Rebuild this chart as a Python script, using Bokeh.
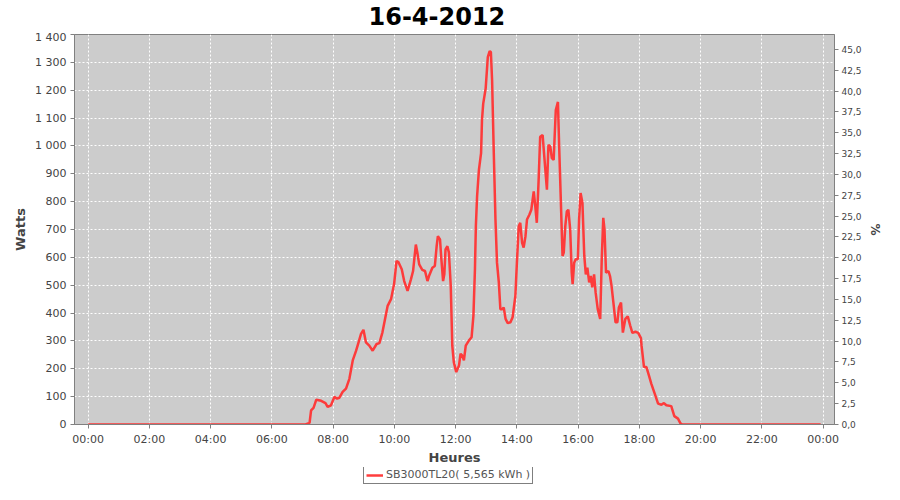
from bokeh.plotting import figure
from bokeh.layouts import column
from bokeh.models import Range1d, LinearAxis, FixedTicker, Legend, LegendItem
from bokeh.core.properties import value
from bokeh.embed import file_html
from bokeh.resources import INLINE

chart_title = "16-4-2012"
series_label = "SB3000TL20( 5,565 kWh )"
x_label = "Heures"
y_label = "Watts"
y2_label = "%"

hours = [0.00, 7.10, 7.23, 7.28, 7.36, 7.45, 7.61, 7.75, 7.82, 7.93,
         8.04, 8.13, 8.20, 8.31, 8.42, 8.53, 8.64, 8.75, 8.83, 8.91,
         8.99, 9.07, 9.18, 9.29, 9.42, 9.51, 9.61, 9.78, 9.89, 9.99,
         10.07, 10.13, 10.24, 10.32, 10.43, 10.54, 10.61, 10.70, 10.75, 10.81,
         10.91, 11.00, 11.08, 11.13, 11.24, 11.32, 11.38, 11.42, 11.49, 11.53,
         11.59, 11.63, 11.67, 11.73, 11.78, 11.84, 11.89, 11.94, 12.02, 12.11,
         12.16, 12.21, 12.27, 12.33, 12.43, 12.52, 12.58, 12.63, 12.66, 12.70,
         12.76, 12.83, 12.86, 12.90, 12.98, 13.05, 13.11, 13.15, 13.19, 13.24,
         13.30, 13.35, 13.41, 13.46, 13.52, 13.57, 13.63, 13.70, 13.79, 13.86,
         13.95, 14.00, 14.06, 14.11, 14.17, 14.22, 14.28, 14.33, 14.41, 14.47,
         14.55, 14.60, 14.65, 14.71, 14.76, 14.84, 14.89, 14.98, 15.03, 15.09,
         15.14, 15.20, 15.23, 15.27, 15.34, 15.38, 15.43, 15.49, 15.53, 15.58,
         15.63, 15.68, 15.74, 15.79, 15.82, 15.87, 15.92, 15.99, 16.03, 16.08,
         16.14, 16.20, 16.25, 16.30, 16.36, 16.41, 16.46, 16.52, 16.57, 16.64,
         16.72, 16.77, 16.82, 16.86, 16.91, 16.99, 17.04, 17.09, 17.15, 17.22,
         17.28, 17.33, 17.40, 17.46, 17.54, 17.62, 17.70, 17.77, 17.87, 17.96,
         18.05, 18.07, 18.15, 18.23, 18.31, 18.39, 18.50, 18.61, 18.72, 18.80,
         18.88, 19.04, 19.14, 19.26, 19.34, 19.40, 23.92]

watts = [0, 0, 6, 51, 60, 89, 85, 77, 63, 69,
         99, 93, 96, 117, 129, 164, 230, 265, 295, 325,
         340, 295, 283, 265, 289, 292, 331, 426, 450, 504,
         587, 583, 557, 515, 480, 521, 551, 646, 617, 575,
         555, 551, 515, 533, 563, 569, 640, 676, 664, 599,
         515, 539, 629, 640, 617, 498, 283, 224, 188, 212,
         254, 248, 230, 283, 301, 313, 390, 557, 712, 819,
         914, 974, 1093, 1152, 1206, 1319, 1340, 1337, 1236, 998,
         736, 581, 510, 414, 414, 420, 379, 364, 367, 385,
         462, 581, 712, 724, 652, 635, 676, 736, 754, 771,
         837, 783, 724, 879, 1033, 1039, 968, 843, 1004, 998,
         956, 950, 1027, 1129, 1158, 998, 819, 605, 617, 712,
         765, 771, 700, 545, 504, 581, 593, 593, 736, 831,
         795, 605, 539, 563, 510, 533, 492, 539, 474, 414,
         379, 593, 742, 700, 545, 551, 533, 498, 438, 367,
         367, 420, 438, 330, 379, 388, 355, 329, 333, 329,
         310, 283, 206, 206, 176, 146, 111, 75, 71, 77,
         69, 66, 30, 21, 4, 0, 0]

x_ticks = [0, 2, 4, 6, 8, 10, 12, 14, 16, 18, 20, 22, 24]
x_tick_labels = ["00:00", "02:00", "04:00", "06:00", "08:00", "10:00", "12:00",
                 "14:00", "16:00", "18:00", "20:00", "22:00", "00:00"]

y_ticks = [0, 100, 200, 300, 400, 500, 600, 700, 800, 900, 1000, 1100, 1200, 1300, 1400]
y_tick_labels = ["0", "100", "200", "300", "400", "500", "600", "700", "800", "900",
                 "1 000", "1 100", "1 200", "1 300", "1 400"]

y2_ticks = [0, 2.5, 5, 7.5, 10, 12.5, 15, 17.5, 20, 22.5, 25, 27.5, 30, 32.5, 35, 37.5, 40, 42.5, 45]
y2_tick_labels = ["0,0", "2,5", "5,0", "7,5", "10,0", "12,5", "15,0", "17,5", "20,0", "22,5",
                  "25,0", "27,5", "30,0", "32,5", "35,0", "37,5", "40,0", "42,5", "45,0"]

FONT = "DejaVu Sans"
AXIS_GRAY = "#808080"
TEXT_GRAY = "#444444"
LINE_COLOR = "#FF3333"

# title strip
tfig = figure(width=884, height=30, x_range=Range1d(0, 1), y_range=Range1d(0, 1),
              output_backend="svg", toolbar_location=None, title=None,
              x_axis_type=None, y_axis_type=None,
              min_border=0, min_border_left=0, min_border_right=0,
              min_border_top=0, min_border_bottom=0)
tfig.outline_line_color = None
tfig.background_fill_color = "white"
tfig.xgrid.visible = False
tfig.ygrid.visible = False
tfig.text(x=[0], y=[0.5], text=[chart_title], x_offset=294,
          text_align="left", text_baseline="middle",
          text_font=value(FONT), text_font_size="24px", text_font_style="bold",
          text_color="black")

p = figure(width=884, height=437, title=None,
           x_range=Range1d(-0.445, 24.37), y_range=Range1d(0, 1400),
           output_backend="svg", toolbar_location=None,
           min_border_left=74, min_border_right=47, min_border_top=4, min_border_bottom=42)
p.background_fill_color = "#CCCCCC"
p.border_fill_color = "white"
p.outline_line_color = AXIS_GRAY
p.outline_line_width = 1

r = p.line(hours, watts, line_color=LINE_COLOR, line_width=2.5, line_alpha=0.95)

p.extra_y_ranges = {"pct": Range1d(0, 46.79)}
ax2 = LinearAxis(y_range_name="pct")
p.add_layout(ax2, "right")

p.xaxis.ticker = FixedTicker(ticks=x_ticks)
p.xaxis.major_label_overrides = dict(zip(x_ticks, x_tick_labels))
p.xaxis.axis_label = x_label
p.yaxis[0].ticker = FixedTicker(ticks=y_ticks)
p.yaxis[0].major_label_overrides = dict(zip(y_ticks, y_tick_labels))
p.yaxis[0].axis_label = y_label
ax2.ticker = FixedTicker(ticks=y2_ticks)
ax2.major_label_overrides = dict(zip(y2_ticks, y2_tick_labels))
ax2.axis_label = y2_label

for ax in [p.xaxis[0], p.yaxis[0], ax2]:
    ax.axis_line_color = AXIS_GRAY
    ax.major_tick_line_color = AXIS_GRAY
    ax.major_tick_in = 0
    ax.major_tick_out = 4
    ax.minor_tick_line_color = None
    ax.major_label_text_font = FONT
    ax.major_label_text_font_size = "11px"
    ax.major_label_text_color = TEXT_GRAY
    ax.major_label_standoff = 4
    ax.axis_label_text_font = FONT
    ax.axis_label_text_font_size = "13px"
    ax.axis_label_text_font_style = "bold"
    ax.axis_label_text_color = TEXT_GRAY
    ax.axis_label_standoff = 4
ax2.major_label_text_font_size = "9px"
ax2.major_label_standoff = 3
ax2.axis_label_standoff = 3
ax2.axis_label_text_font_size = "12px"
p.xaxis[0].major_label_standoff = 4
p.xaxis[0].axis_label_standoff = 1

p.xgrid.grid_line_color = "white"
p.xgrid.grid_line_dash = "2 2"
p.xgrid.grid_line_width = 1
p.ygrid.grid_line_color = "white"
p.ygrid.grid_line_dash = "2 2"
p.ygrid.grid_line_width = 1

# legend strip below the chart
leg = figure(width=884, height=17, x_range=Range1d(0, 1), y_range=Range1d(0, 1),
             output_backend="svg", toolbar_location=None, title=None,
             x_axis_type=None, y_axis_type=None,
             min_border=0, min_border_left=0, min_border_right=0,
             min_border_top=0, min_border_bottom=0)
leg.outline_line_color = None
leg.background_fill_color = "white"
leg.xgrid.visible = False
leg.ygrid.visible = False
r_leg = leg.line(x=[-2, -1], y=[-2, -2], line_color=LINE_COLOR, line_width=2.5, line_alpha=0.95)

legend = Legend(items=[LegendItem(label=series_label, renderers=[r_leg])],
                location=(289, 0),
                border_line_color="black", border_line_width=1,
                background_fill_color="white", background_fill_alpha=1,
                label_text_font=FONT, label_text_font_size="11px", label_text_color="#555555",
                padding=2, margin=0,
                glyph_width=17, glyph_height=12, label_height=12, label_standoff=3)
leg.add_layout(legend)

layout = column(tfig, p, leg, spacing=0)
open("out.html", "w").write(file_html(layout, INLINE))
